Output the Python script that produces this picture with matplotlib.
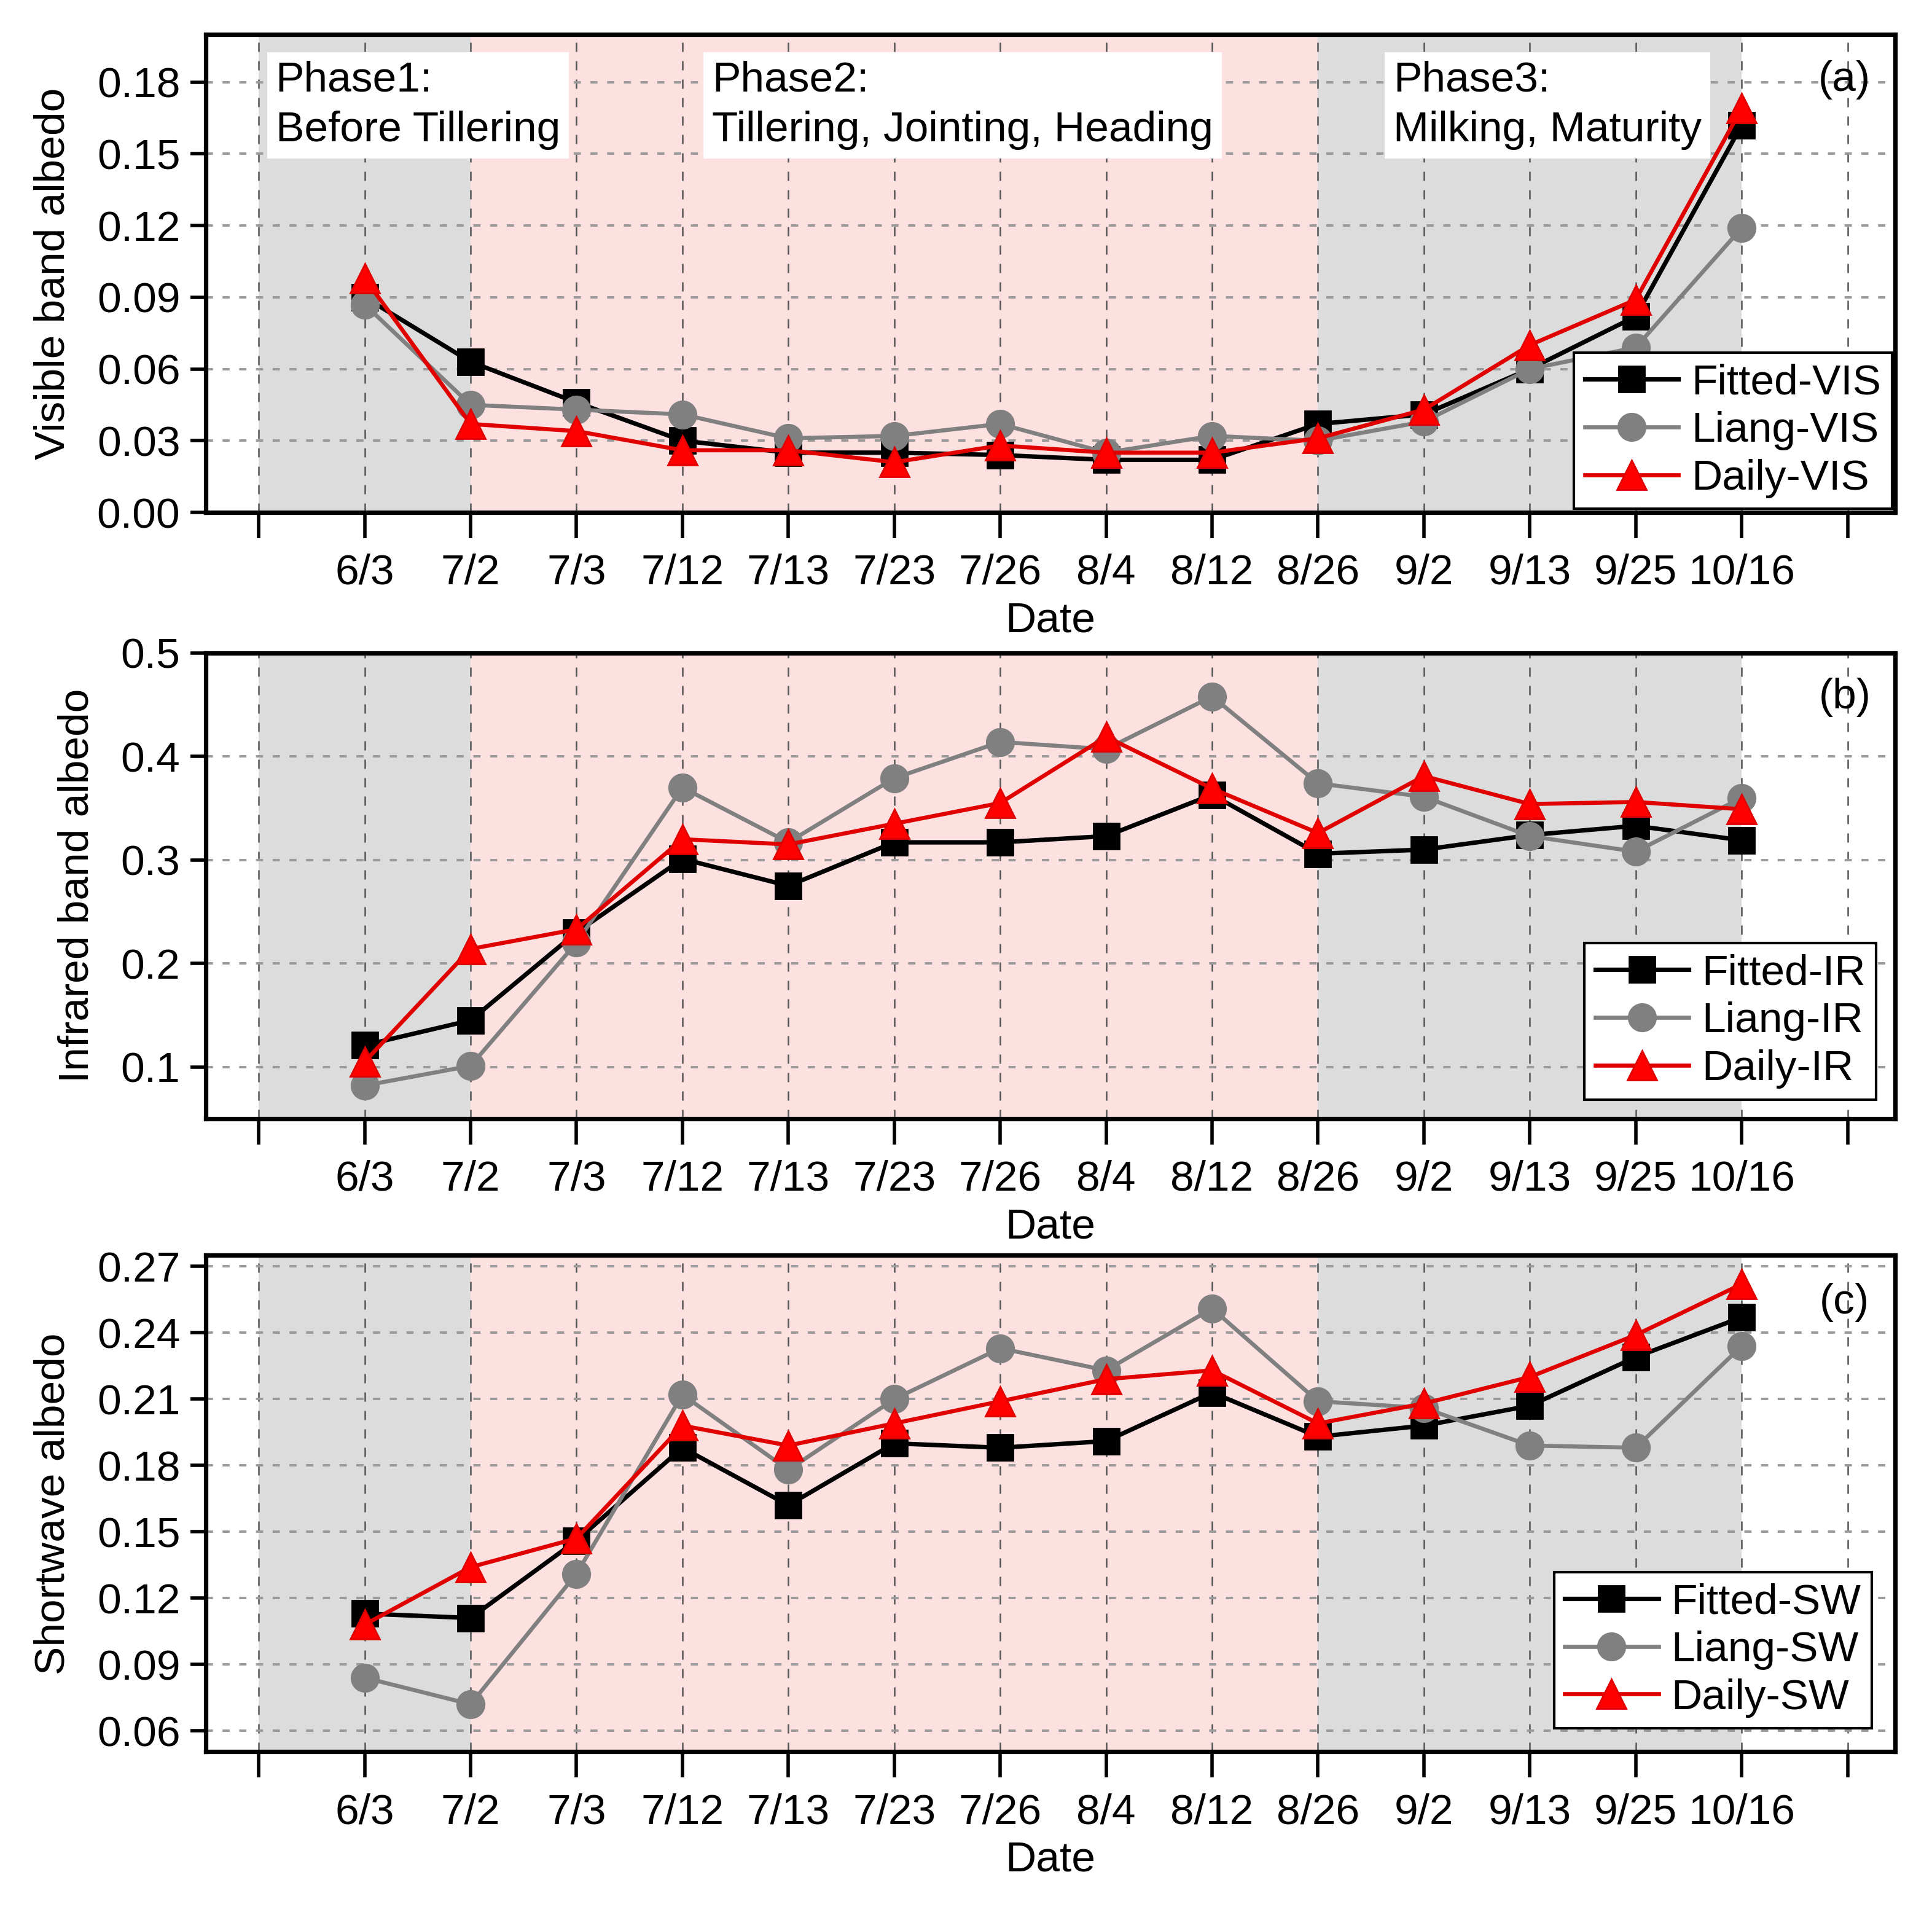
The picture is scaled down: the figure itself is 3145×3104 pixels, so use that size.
import matplotlib
matplotlib.use("Agg")
import matplotlib.pyplot as plt
import numpy as np
from matplotlib.transforms import blended_transform_factory

plt.rcParams['font.family'] = ['Liberation Sans', 'DejaVu Sans']

dates = ["6/3", "7/2", "7/3", "7/12", "7/13", "7/23", "7/26", "8/4", "8/12",
         "8/26", "9/2", "9/13", "9/25", "10/16"]

fitted_vis = [0.090, 0.063, 0.046, 0.030, 0.025, 0.025, 0.024, 0.022, 0.022, 0.037, 0.041, 0.060, 0.082, 0.162]
liang_vis = [0.087, 0.045, 0.043, 0.041, 0.031, 0.032, 0.037, 0.025, 0.032, 0.030, 0.038, 0.060, 0.069, 0.119]
daily_vis = [0.098, 0.037, 0.034, 0.026, 0.026, 0.021, 0.028, 0.025, 0.025, 0.031, 0.043, 0.070, 0.089, 0.169]

fitted_ir = [0.121, 0.145, 0.230, 0.301, 0.275, 0.317, 0.317, 0.323, 0.363, 0.306, 0.310, 0.324, 0.333, 0.319]
liang_ir = [0.082, 0.101, 0.220, 0.370, 0.317, 0.379, 0.414, 0.407, 0.458, 0.374, 0.361, 0.323, 0.308, 0.360]
daily_ir = [0.105, 0.214, 0.233, 0.320, 0.315, 0.335, 0.355, 0.419, 0.369, 0.326, 0.381, 0.354, 0.356, 0.349]

fitted_sw = [0.113, 0.111, 0.146, 0.188, 0.162, 0.190, 0.188, 0.191, 0.213, 0.193, 0.198, 0.207, 0.229, 0.247]
liang_sw = [0.084, 0.072, 0.131, 0.212, 0.178, 0.210, 0.233, 0.223, 0.251, 0.209, 0.206, 0.189, 0.188, 0.234]
daily_sw = [0.108, 0.134, 0.147, 0.198, 0.189, 0.199, 0.209, 0.219, 0.223, 0.199, 0.208, 0.220, 0.239, 0.262]

phase_labels = ["Phase1:\nBefore Tillering",
                "Phase2:\nTillering, Jointing, Heading",
                "Phase3:\nMilking, Maturity"]

panels = [
    dict(f=fitted_vis, l=liang_vis, d=daily_vis, suffix="VIS", ylabel="Visible band albedo",
         ylim=(0.0, 0.2), yticks=np.arange(0, 0.181, 0.03), fmt="{:.2f}", tag="(a)",
         pos=[0.1065, 0.7313, 0.8745, 0.2507], legpad=0.08),
    dict(f=fitted_ir, l=liang_ir, d=daily_ir, suffix="IR", ylabel="Infrared band albedo",
         ylim=(0.05, 0.5), yticks=np.arange(0.1, 0.501, 0.1), fmt="{:.1f}", tag="(b)",
         pos=[0.1065, 0.4134, 0.8745, 0.2442], legpad=0.45),
    dict(f=fitted_sw, l=liang_sw, d=daily_sw, suffix="SW", ylabel="Shortwave albedo",
         ylim=(0.0505, 0.275), yticks=np.arange(0.06, 0.271, 0.03), fmt="{:.2f}", tag="(c)",
         pos=[0.1065, 0.0814, 0.8745, 0.2603], legpad=0.55),
]

fig = plt.figure(figsize=(15.725, 15.52), dpi=200)
x = np.arange(1, len(dates) + 1)
FS = 25

for i, p in enumerate(panels):
    ax = fig.add_axes(p["pos"])
    ax.set_xlim(-0.5, 15.45)
    ax.set_ylim(*p["ylim"])
    # phase shading
    ax.axvspan(0, 2, color="#dcdcdc", lw=0, zorder=0)
    ax.axvspan(2, 10, color="#fde0e0", lw=0, zorder=0)
    ax.axvspan(10, 14, color="#dcdcdc", lw=0, zorder=0)
    # grid
    for xv in range(0, 16):
        ax.axvline(xv, color="#555555", lw=0.9, dashes=(6, 6), zorder=1)
    for yv in p["yticks"]:
        ax.axhline(yv, color="#9a9a9a", lw=1.4, dashes=(3, 4), zorder=1)

    ax.plot(x, p["f"], color="black", lw=2.6, marker="s", ms=15, mfc="black", mec="black",
            label="Fitted-" + p["suffix"], zorder=3)
    ax.plot(x, p["l"], color="#808080", lw=2.4, marker="o", ms=16, mfc="#808080", mec="#808080",
            label="Liang-" + p["suffix"], zorder=4)
    ax.plot(x, p["d"], color="#e00000", lw=2.4, marker="^", ms=17, mfc="#ff0000", mec="#e00000",
            label="Daily-" + p["suffix"], zorder=5)

    ax.set_xticks(range(0, 16))
    ax.set_xticklabels([""] + dates + [""])
    ax.set_yticks(p["yticks"])
    ax.set_yticklabels([p["fmt"].format(v) for v in p["yticks"]])
    ax.tick_params(axis="x", direction="out", length=15, width=2, pad=9, labelsize=FS)
    ax.tick_params(axis="y", direction="out", length=9, width=2, pad=6, labelsize=FS)
    for s in ax.spines.values():
        s.set_linewidth(2.6)
    ax.set_xlabel("Date", fontsize=FS, labelpad=5)
    ax.set_ylabel(p["ylabel"], fontsize=FS, labelpad=14)

    ax.text(0.970, 0.905, p["tag"], transform=ax.transAxes, fontsize=FS,
            ha="center", va="center", zorder=6)

    leg = ax.legend(loc="lower right", fontsize=FS, frameon=True, fancybox=False,
                    framealpha=1, edgecolor="black", handlelength=2.2, handletextpad=0.3,
                    borderpad=0.25, labelspacing=0.2, borderaxespad=p["legpad"])
    leg.get_frame().set_linewidth(1.5)
    leg.set_zorder(7)

    if i == 0:
        tr = blended_transform_factory(ax.transData, ax.transAxes)
        for xp, txt in zip([0.16, 4.28, 10.71], phase_labels):
            ax.text(xp, 0.945, txt, transform=tr, fontsize=FS, ha="left", va="top",
                    linespacing=1.35, zorder=6,
                    bbox=dict(facecolor="white", edgecolor="none", pad=5))

fig.savefig("out.png", dpi=200)
